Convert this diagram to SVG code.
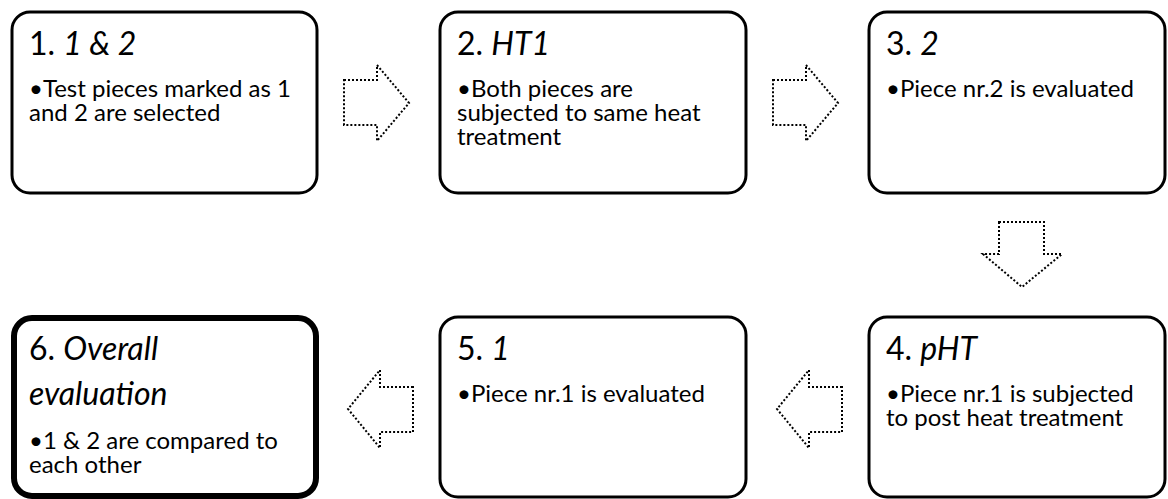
<svg xmlns="http://www.w3.org/2000/svg" width="1168" height="499" viewBox="0 0 1168 499">
<style>
.box{fill:#fff;stroke:#000;stroke-width:3}
.thick{stroke-width:6}
.arr{fill:#fff;stroke:#000;stroke-width:2;stroke-dasharray:2 2}
.t{font-family:Lato,"Liberation Sans",sans-serif;font-size:32px;fill:#000}
.b{font-family:Lato,"Liberation Sans",sans-serif;font-size:24px;fill:#000}
</style>
<rect width="1168" height="499" fill="#fff"/>
<g id="connectors">
<polygon class="arr" points="344,80 377,80 377,65 409,103 377,141 377,125 344,125"/>
<polygon class="arr" points="773,80 806,80 806,65 838,103 806,141 806,125 773,125"/>
<polygon class="arr" points="999,222 1044,222 1044,254 1062,254 1022,287 983,254 999,254"/>
<polygon class="arr" points="413,387 380,387 380,370 348,409 380,448 380,432 413,432"/>
<polygon class="arr" points="842,387 809,387 809,370 777,409 809,448 809,432 842,432"/>
</g>
<g id="node1">
<rect class="box" x="12" y="12" width="305" height="181" rx="18"/>
<text class="t" x="29" y="55">1. <tspan font-style="italic">1 &amp; 2</tspan></text>
<text class="b" x="29" y="97">•Test pieces marked as 1</text>
<text class="b" x="29" y="121">and 2 are selected</text>
</g>
<g id="node2">
<rect class="box" x="440" y="12" width="306" height="181" rx="18"/>
<text class="t" x="457" y="55">2. <tspan font-style="italic">HT1</tspan></text>
<text class="b" x="457" y="97">•Both pieces are</text>
<text class="b" x="457" y="121">subjected to same heat</text>
<text class="b" x="457" y="145">treatment</text>
</g>
<g id="node3">
<rect class="box" x="869" y="12" width="296" height="181" rx="18"/>
<text class="t" x="886" y="55">3. <tspan font-style="italic">2</tspan></text>
<text class="b" x="886" y="97">•Piece nr.2 is evaluated</text>
</g>
<g id="node4">
<rect class="box" x="869" y="317" width="296" height="180" rx="18"/>
<text class="t" x="886" y="360">4. <tspan font-style="italic">pHT</tspan></text>
<text class="b" x="886" y="402">•Piece nr.1 is subjected</text>
<text class="b" x="886" y="426">to post heat treatment</text>
</g>
<g id="node5">
<rect class="box" x="440" y="317" width="306" height="180" rx="18"/>
<text class="t" x="457" y="360">5. <tspan font-style="italic">1</tspan></text>
<text class="b" x="457" y="402">•Piece nr.1 is evaluated</text>
</g>
<g id="node6">
<rect class="box thick" x="14" y="318" width="302" height="178" rx="18"/>
<text class="t" x="29" y="360">6. <tspan font-style="italic">Overall</tspan></text>
<text class="t" x="29" y="405"><tspan font-style="italic">evaluation</tspan></text>
<text class="b" x="29" y="449">•1 &amp; 2 are compared to</text>
<text class="b" x="29" y="473">each other</text>
</g>
</svg>
